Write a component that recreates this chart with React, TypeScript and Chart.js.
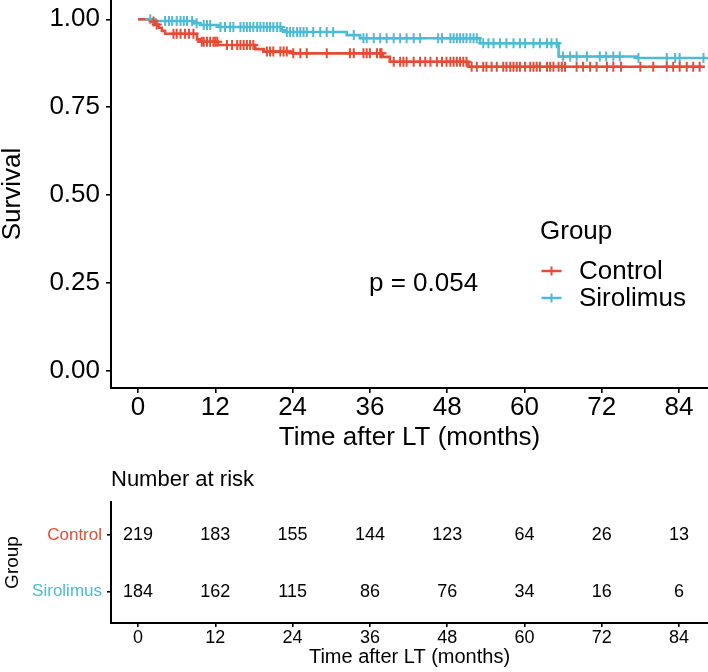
import React, { useEffect, useRef } from 'react';
import { Chart, registerables } from 'chart.js';

Chart.register(...registerables);

const RED = '#E64B35';
const BLUE = '#4DBBD5';
const FONT = '"Liberation Sans", Arial, Helvetica, sans-serif';

const groupNames = ['Control', 'Sirolimus'];
const xTicks = [0, 12, 24, 36, 48, 60, 72, 84];
const yTicks = [0, 0.25, 0.5, 0.75, 1];
const pValueText = 'p = 0.054';

const controlEventTimes = [0, 2.17, 2.68, 3.2, 3.7, 4.2, 9.15, 9.66, 12.4, 18.2, 19.5, 24.0, 38.0, 39.1, 51.3];
const controlSurvival = [1, 0.994, 0.985, 0.976, 0.967, 0.959, 0.943, 0.936, 0.927, 0.915, 0.908, 0.903, 0.893, 0.879, 0.865];
const controlLastFollowUp = 88.0;

const sirolimusEventTimes = [0, 2.7, 8.6, 9.7, 12.5, 22.3, 22.8, 32.4, 34.5, 53.1, 65.3, 77.5];
const sirolimusSurvival = [1, 0.995, 0.989, 0.984, 0.978, 0.969, 0.964, 0.955, 0.946, 0.932, 0.894, 0.89];
const sirolimusLastFollowUp = 88.3;

const controlCensorTimes = [2.4, 2.9, 5.5, 6.0, 6.6, 7.3, 7.9, 8.6, 9.9, 10.2, 10.7, 11.2, 11.7, 12.0, 12.3, 13.8, 14.6, 15.4, 15.9, 16.4, 16.9, 17.4, 17.9, 20.0, 20.5, 21.0, 22.1, 22.6, 23.1, 24.1, 25.2, 26.2, 29.3, 32.9, 33.5, 35.0, 35.5, 36.0, 37.1, 37.6, 37.8, 39.7, 40.7, 41.2, 41.7, 42.8, 43.8, 44.6, 45.4, 46.4, 47.2, 47.9, 48.5, 49.0, 49.5, 50.0, 50.5, 51.0, 51.8, 52.6, 53.6, 54.1, 54.9, 55.7, 56.7, 57.2, 57.8, 58.3, 58.8, 59.3, 60.1, 60.9, 61.4, 61.9, 62.4, 63.5, 64.0, 64.5, 65.3, 65.8, 66.3, 68.1, 69.1, 70.2, 71.2, 72.8, 73.8, 75.0, 78.0, 80.0, 82.1, 83.1, 84.1, 85.2, 86.2, 87.2];
const sirolimusCensorTimes = [1.9, 4.2, 4.8, 5.3, 6.0, 6.6, 7.1, 7.6, 8.4, 9.1, 10.2, 10.7, 11.2, 12.8, 13.5, 14.3, 14.8, 15.9, 16.4, 16.9, 17.4, 17.9, 18.5, 19.0, 19.5, 20.0, 20.5, 21.0, 21.6, 22.1, 23.1, 23.6, 24.1, 24.7, 25.2, 25.7, 26.2, 27.2, 28.3, 29.3, 30.3, 33.5, 35.0, 35.5, 36.6, 37.6, 38.6, 39.7, 40.7, 41.7, 42.8, 43.8, 46.6, 47.2, 48.5, 49.0, 49.5, 50.0, 50.5, 51.0, 51.6, 52.1, 52.6, 53.6, 54.4, 55.2, 56.2, 57.2, 58.3, 59.3, 60.1, 61.4, 62.4, 63.5, 64.2, 65.0, 66.0, 67.1, 68.1, 69.7, 71.7, 72.7, 73.8, 74.8, 77.7, 82.1, 83.4, 84.1, 87.8];

const riskTimes = [0, 12, 24, 36, 48, 60, 72, 84];
const controlAtRisk = [219, 183, 155, 144, 123, 64, 26, 13];
const sirolimusAtRisk = [184, 162, 115, 86, 76, 34, 16, 6];

const X_MIN = -4.2;
const X_MAX = 88.5;

function survAt(times: number[], surv: number[], t: number) {
  let s = surv[0];
  for (let i = 0; i < times.length; i++) {
    if (times[i] <= t) s = surv[i];
  }
  return s;
}

function stepPoints(times: number[], surv: number[], end: number) {
  const pts = times.map((t, i) => ({ x: t, y: surv[i] }));
  pts.push({ x: end, y: surv[surv.length - 1] });
  return pts;
}

function censorPoints(times: number[], eventTimes: number[], surv: number[]) {
  return times.map((t) => ({ x: t, y: survAt(eventTimes, surv, t) }));
}

const mainOverlay = {
  id: 'mainOverlay',
  afterDraw(chart: any) {
    const ctx = chart.ctx;
    ctx.save();
    ctx.fillStyle = '#000';
    ctx.font = `26px ${FONT}`;
    ctx.textBaseline = 'middle';
    ctx.textAlign = 'left';
    ctx.fillText(pValueText, 369, 284);
    ctx.fillText('Group', 540, 232);
    const items = [
      { name: groupNames[0], color: RED, y: 271 },
      { name: groupNames[1], color: BLUE, y: 298 },
    ];
    items.forEach((it) => {
      ctx.strokeStyle = it.color;
      ctx.lineWidth = 2.5;
      ctx.beginPath();
      ctx.moveTo(541.5, it.y);
      ctx.lineTo(561.5, it.y);
      ctx.stroke();
      ctx.lineWidth = 2;
      ctx.beginPath();
      ctx.moveTo(551.5, it.y - 4.5);
      ctx.lineTo(551.5, it.y + 4.5);
      ctx.moveTo(547.5, it.y);
      ctx.lineTo(555.5, it.y);
      ctx.stroke();
      ctx.fillStyle = '#000';
      ctx.fillText(it.name, 579, it.y + 1);
    });
    ctx.restore();
  },
};

const tableOverlay = {
  id: 'tableOverlay',
  afterDatasetsDraw(chart: any) {
    const ctx = chart.ctx;
    ctx.save();
    ctx.fillStyle = '#000';
    ctx.font = `22px ${FONT}`;
    ctx.textAlign = 'left';
    ctx.textBaseline = 'middle';
    ctx.fillText('Number at risk', 111, 25);
    ctx.font = `18px ${FONT}`;
    ctx.textAlign = 'center';
    chart.data.datasets.forEach((ds: any, di: number) => {
      const meta = chart.getDatasetMeta(di);
      meta.data.forEach((el: any, i: number) => {
        ctx.fillText(String(ds.counts[i]), el.x, el.y);
      });
    });
    ctx.restore();
  },
};

export default function App() {
  const mainRef = useRef<HTMLCanvasElement | null>(null);
  const tableRef = useRef<HTMLCanvasElement | null>(null);

  useEffect(() => {
    document.body.style.margin = '0';
    Chart.defaults.font.family = FONT;
    Chart.defaults.color = '#000';

    const axisGrid = (len: number) => ({
      display: true,
      drawOnChartArea: false,
      drawTicks: true,
      tickLength: len,
      color: '#000',
      lineWidth: 1.6,
    });
    const axisBorder = { display: true, color: '#000', width: 2 };

    const main = new Chart(mainRef.current as HTMLCanvasElement, {
      type: 'line',
      data: {
        datasets: [
          {
            label: 'Control censor',
            data: censorPoints(controlCensorTimes, controlEventTimes, controlSurvival),
            showLine: false,
            pointStyle: 'cross',
            pointRadius: 5,
            pointBorderWidth: 2,
            pointBorderColor: RED,
            borderColor: RED,
          } as any,
          {
            label: 'Sirolimus censor',
            data: censorPoints(sirolimusCensorTimes, sirolimusEventTimes, sirolimusSurvival),
            showLine: false,
            pointStyle: 'cross',
            pointRadius: 5,
            pointBorderWidth: 2,
            pointBorderColor: BLUE,
            borderColor: BLUE,
          } as any,
          {
            label: groupNames[0],
            data: stepPoints(controlEventTimes, controlSurvival, controlLastFollowUp),
            stepped: true,
            borderColor: RED,
            borderWidth: 2.6,
            pointRadius: 0,
            fill: false,
          } as any,
          {
            label: groupNames[1],
            data: stepPoints(sirolimusEventTimes, sirolimusSurvival, sirolimusLastFollowUp),
            stepped: true,
            borderColor: BLUE,
            borderWidth: 2.6,
            pointRadius: 0,
            fill: false,
          } as any,
        ],
      },
      options: {
        animation: false,
        responsive: false,
        events: [],
        layout: { padding: 0, autoPadding: false },
        plugins: { legend: { display: false }, tooltip: { enabled: false }, title: { display: false } },
        scales: {
          x: {
            type: 'linear',
            min: X_MIN,
            max: X_MAX,
            afterBuildTicks: (s: any) => {
              s.ticks = xTicks.map((v) => ({ value: v }));
            },
            afterFit: (s: any) => {
              s.height = 67;
              s.paddingLeft = 0;
              s.paddingRight = 0;
            },
            ticks: {
              autoSkip: false,
              maxRotation: 0,
              padding: 2,
              color: '#000',
              font: { size: 26, lineHeight: 1 },
              callback: (v: any) => String(v),
            },
            grid: axisGrid(5),
            border: axisBorder,
            title: {
              display: true,
              text: 'Time after LT (months)',
              color: '#000',
              font: { size: 26, lineHeight: 1 },
              padding: { top: 0, bottom: 4 },
            },
          },
          y: {
            type: 'linear',
            min: -0.05,
            max: 1.055,
            afterBuildTicks: (s: any) => {
              s.ticks = yTicks.map((v) => ({ value: v }));
            },
            afterFit: (s: any) => {
              s.width = 111;
              s.paddingTop = 0;
              s.paddingBottom = 0;
            },
            ticks: {
              autoSkip: false,
              padding: 6,
              color: '#000',
              font: { size: 26, lineHeight: 1 },
              callback: (v: any) => Number(v).toFixed(2),
            },
            grid: axisGrid(5),
            border: axisBorder,
            title: {
              display: true,
              text: 'Survival',
              color: '#000',
              font: { size: 26, lineHeight: 1 },
              padding: { top: 0, bottom: 0 },
            },
          },
        },
      } as any,
      plugins: [mainOverlay],
    });

    const table = new Chart(tableRef.current as HTMLCanvasElement, {
      type: 'scatter',
      data: {
        datasets: [
          {
            label: groupNames[0],
            data: riskTimes.map((t) => ({ x: t, y: 2 })),
            counts: controlAtRisk,
            pointRadius: 0,
          } as any,
          {
            label: groupNames[1],
            data: riskTimes.map((t) => ({ x: t, y: 1 })),
            counts: sirolimusAtRisk,
            pointRadius: 0,
          } as any,
        ],
      },
      options: {
        animation: false,
        responsive: false,
        events: [],
        layout: { padding: { top: 47, left: 0, right: 0, bottom: 0 }, autoPadding: false },
        plugins: { legend: { display: false }, tooltip: { enabled: false } },
        scales: {
          x: {
            type: 'linear',
            min: X_MIN,
            max: X_MAX,
            afterBuildTicks: (s: any) => {
              s.ticks = xTicks.map((v) => ({ value: v }));
            },
            afterFit: (s: any) => {
              s.height = 49;
              s.paddingLeft = 0;
              s.paddingRight = 0;
            },
            ticks: {
              autoSkip: false,
              maxRotation: 0,
              padding: 2,
              color: '#000',
              font: { size: 18, lineHeight: 1 },
              callback: (v: any) => String(v),
            },
            grid: axisGrid(4),
            border: axisBorder,
            title: {
              display: true,
              text: 'Time after LT (months)',
              color: '#000',
              font: { size: 20, lineHeight: 1 },
              padding: { top: 0, bottom: 5 },
            },
          },
          y: {
            type: 'linear',
            min: 0.448,
            max: 2.582,
            afterBuildTicks: (s: any) => {
              s.ticks = [1, 2].map((v) => ({ value: v }));
            },
            afterFit: (s: any) => {
              s.width = 111;
              s.paddingTop = 0;
              s.paddingBottom = 0;
            },
            ticks: {
              autoSkip: false,
              padding: 5,
              font: { size: 17, lineHeight: 1 },
              color: (c: any) => (c.tick && c.tick.value === 2 ? RED : BLUE),
              callback: (v: any) => (v === 2 ? groupNames[0] : groupNames[1]),
            },
            grid: axisGrid(4),
            border: axisBorder,
            title: {
              display: true,
              text: 'Group',
              color: '#000',
              font: { size: 19, lineHeight: 1 },
              padding: { top: 3, bottom: 0 },
            },
          },
        },
      } as any,
      plugins: [tableOverlay],
    });

    return () => {
      main.destroy();
      table.destroy();
    };
  }, []);

  return (
    <div style={{ position: 'absolute', left: 0, top: 0, width: 708, height: 672, background: '#fff' }}>
      <canvas ref={mainRef} width={708} height={455} style={{ display: 'block', width: 708, height: 455 }} />
      <canvas ref={tableRef} width={708} height={217} style={{ display: 'block', width: 708, height: 217 }} />
    </div>
  );
}
